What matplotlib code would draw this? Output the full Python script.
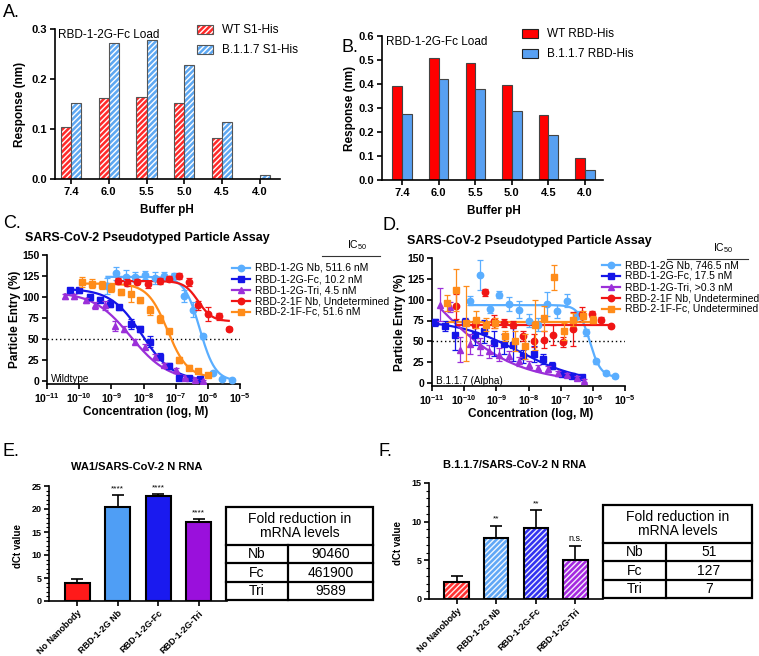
import numpy as np
import matplotlib
matplotlib.use('Agg')
import matplotlib.pyplot as plt
from matplotlib.patches import Rectangle
from matplotlib.lines import Line2D

plt.rcParams['font.family'] = ['Liberation Sans', 'DejaVu Sans']
plt.rcParams['mathtext.fontset'] = 'custom'
plt.rcParams['mathtext.rm'] = 'Liberation Sans'
plt.rcParams['mathtext.bf'] = 'Liberation Sans:bold'
plt.rcParams['hatch.linewidth'] = 1.0

# ---- data ----
ph_labels = ['7.4', '6.0', '5.5', '5.0', '4.5', '4.0']
s1_wt = [0.105, 0.162, 0.164, 0.153, 0.082, 0.0]
s1_b117 = [0.152, 0.272, 0.279, 0.228, 0.115, 0.008]
rbd_wt = [0.39, 0.51, 0.487, 0.397, 0.27, 0.093]
rbd_b117 = [0.275, 0.42, 0.38, 0.288, 0.188, 0.04]

series_names = ['RBD-1-2G Nb', 'RBD-1-2G-Fc', 'RBD-1-2G-Tri', 'RBD-2-1F Nb', 'RBD-2-1F-Fc']
series_colors = ['#5aaeff', '#1515e8', '#9b30d9', '#f01515', '#ff8c1a']
series_markers = ['o', 's', '^', 'o', 's']
ic50_wt = ['511.6 nM', '10.2 nM', '4.5 nM', 'Undetermined', '51.6 nM']
ic50_alpha = ['746.5 nM', '17.5 nM', '>0.3 nM', 'Undetermined', 'Undetermined']

# wildtype pseudotyped particle entry (log10 M, %, sd)
wt_logx = [
    [-9.15, -8.85, -8.55, -8.25, -7.95, -7.65, -7.35, -7.05, -6.75, -6.45, -6.15, -5.85, -5.55, -5.25],
    [-10.3, -10.0, -9.65, -9.35, -9.05, -8.75, -8.4, -8.1, -7.8, -7.5, -7.2, -6.9, -6.6, -6.25],
    [-10.45, -10.15, -9.8, -9.5, -9.2, -8.9, -8.6, -8.25, -7.95, -7.65, -7.35, -7.0, -6.7, -6.4, -6.15],
    [-8.8, -8.5, -8.2, -7.85, -7.5, -7.2, -6.9, -6.6, -6.3, -6.0, -5.65, -5.35],
    [-9.9, -9.6, -9.3, -9.0, -8.7, -8.4, -8.1, -7.8, -7.5, -7.2, -6.9, -6.6, -6.3, -6.0],
]
wt_y = [
    [113, 128, 124, 124, 126, 123, 125, 125, 101, 85, 53, 10, 2, 1],
    [108, 108, 100, 97, 92, 88, 68, 62, 47, 29, 18, 3, 3, 2],
    [101, 101, 96, 90, 90, 66, 62, 47, 41, 29, 19, 13, 3, 1, 0],
    [119, 117, 118, 115, 119, 122, 125, 118, 90, 80, 77, 62],
    [118, 116, 114, 111, 106, 104, 96, 84, 74, 59, 25, 16, 12, 7],
]
wt_err = [
    [10, 8, 8, 6, 5, 7, 5, 4, 7, 9, 3, 2, 1, 1],
    [3, 3, 4, 3, 4, 3, 6, 4, 6, 4, 3, 2, 1, 1],
    [3, 3, 3, 4, 5, 6, 4, 3, 3, 3, 2, 2, 1, 1, 1],
    [4, 4, 3, 4, 4, 3, 3, 5, 5, 8, 4, 2],
    [6, 5, 5, 5, 4, 10, 3, 5, 5, 3, 3, 3, 2, 2],
]
# 4PL fit parameters: top, bottom, logIC50, hill slope
wt_fit = [(124, 0, -6.25, 1.8), (110, 0, -8.05, 0.9), (106, 0, -8.4, 0.75),
          (119, 71, -6.3, 2.0), (116, 4, -7.25, 1.4)]

alpha_logx = [
    [-9.83, -9.52, -9.21, -8.93, -8.62, -8.31, -8.0, -7.72, -7.41, -7.1, -6.81, -6.5, -6.21, -5.9, -5.59, -5.31],
    [-10.9, -10.59, -10.28, -9.97, -9.66, -9.38, -9.06, -8.76, -8.47, -8.16, -7.84, -7.56, -7.26, -6.97, -6.66, -6.34],
    [-10.74, -10.45, -10.14, -9.83, -9.52, -9.24, -8.93, -8.62, -8.31, -8.0, -7.69, -7.38, -7.09, -6.79, -6.5, -6.27],
    [-10.24, -9.66, -9.34, -9.06, -8.76, -8.47, -8.16, -7.84, -7.53, -7.24, -6.93, -6.62, -6.34, -6.04, -5.74, -5.44],
    [-10.53, -10.24, -9.93, -9.63, -9.33, -9.03, -8.72, -8.41, -8.1, -7.81, -7.51, -7.22, -6.91, -6.62, -6.31, -6.01],
]
alpha_y = [
    [99, 130, 89, 106, 95, 88, 75, 70, 95, 86, 99, 81, 61, 26, 12, 8],
    [73, 69, 58, 73, 58, 62, 48, 47, 46, 32, 35, 29, 21, 11, 8, 7],
    [94, 91, 40, 47, 44, 38, 34, 32, 26, 22, 18, 17, 12, 10, 6, 3],
    [92, 70, 109, 74, 72, 70, 56, 51, 52, 58, 49, 65, 83, 83, 76, 68],
    [96, 112, 72, 76, 70, 72, 56, 50, 44, 70, 78, 127, 62, 76, 80, 76],
]
alpha_err = [
    [5, 18, 5, 4, 8, 10, 8, 8, 14, 8, 8, 6, 4, 3, 2, 2],
    [4, 6, 18, 5, 12, 14, 15, 12, 20, 8, 10, 6, 4, 3, 2, 2],
    [20, 6, 15, 12, 10, 8, 8, 6, 5, 4, 4, 3, 3, 2, 2, 2],
    [15, 4, 4, 8, 5, 4, 6, 8, 10, 12, 6, 20, 8, 4, 3, 2],
    [10, 25, 45, 10, 8, 6, 6, 12, 15, 30, 15, 15, 10, 8, 6, 4],
]
alpha_fit = [(93.5, 7, -6.1, 2.5), (76, 0, -8.3, 0.45), (200, 0, -11.0, 0.35),
             (70, 70, -7.0, 1.0), (73, 73, -7.0, 1.0)]

rna_groups = ['No Nanobody', 'RBD-1-2G Nb', 'RBD-1-2G-Fc', 'RBD-1-2G-Tri']
rna_colors = ['#ff1a1a', '#4f9ef5', '#1a1aef', '#9a10dc']
wa1_dct = [3.9, 20.4, 22.8, 17.2]
wa1_err = [0.8, 2.6, 0.4, 0.6]
wa1_sig = ['', '****', '****', '****']
wa1_fold = ['90460', '461900', '9589']
b117_dct = [2.2, 7.9, 9.2, 5.1]
b117_err = [0.8, 1.6, 2.3, 1.8]
b117_sig = ['', '**', '**', 'n.s.']
b117_fold = ['51', '127', '7']
fold_rows = ['Nb', 'Fc', 'Tri']

# ---- figure helpers ----
W, H = 759, 656
fig = plt.figure(figsize=(W / 100, H / 100), dpi=100)


def px_axes(l, t, r, b):
    return fig.add_axes([l / W, 1 - b / H, (r - l) / W, (b - t) / H])


def ft(x, y, s, **kw):
    return fig.text(x / W, 1 - y / H, s, **kw)


def prism_style(ax, size=8):
    for s in ['top', 'right']:
        ax.spines[s].set_visible(False)
    for s in ['left', 'bottom']:
        ax.spines[s].set_linewidth(1.2)
    ax.tick_params(width=1.2, length=3.5, labelsize=size, pad=2)
    for lab in ax.get_xticklabels() + ax.get_yticklabels():
        lab.set_fontweight('bold')


def fig_patch(x, y, w, h, color, hatch=None, edge='#555555'):
    fig.add_artist(Rectangle((x / W, 1 - (y + h) / H), w / W, h / H, transform=fig.transFigure,
                             facecolor=color, edgecolor='white' if hatch else edge,
                             hatch=hatch, lw=0 if hatch else 0.8))
    if hatch:
        fig.add_artist(Rectangle((x / W, 1 - (y + h) / H), w / W, h / H, transform=fig.transFigure,
                                 fill=False, edgecolor=edge, lw=0.8))


def hill(logx, top, bottom, logic50, slope):
    return bottom + (top - bottom) / (1 + 10 ** ((logx - logic50) * slope))


# ---- A ----
ax = px_axes(55, 29, 280, 179)
pos = np.arange(6)
bw = 0.265
ax.bar(pos - bw / 2, s1_wt, bw, color='#ff2a2a', edgecolor='white', hatch='//////', lw=0)
ax.bar(pos - bw / 2, s1_wt, bw, fill=False, edgecolor='#555555', lw=0.8)
ax.bar(pos + bw / 2, s1_b117, bw, color='#5ea8f2', edgecolor='white', hatch='//////', lw=0)
ax.bar(pos + bw / 2, s1_b117, bw, fill=False, edgecolor='#555555', lw=0.8)
ax.set_xlim(-0.42, 5.53)
ax.set_ylim(0, 0.3)
ax.set_xticks(pos, ph_labels)
ax.set_yticks([0, 0.1, 0.2, 0.3], ['0.0', '0.1', '0.2', '0.3'])
prism_style(ax)
ax.text(0.015, 1.0, 'RBD-1-2G-Fc Load', transform=ax.transAxes, fontsize=8.5, va='top')
fig_patch(197, 25, 16, 9, '#ff2a2a', '//////')
fig_patch(197, 45, 16, 9, '#5ea8f2', '//////')
ft(222, 30, 'WT S1-His', fontsize=8.5, va='center')
ft(222, 50, 'B.1.1.7 S1-His', fontsize=8.5, va='center')
ft(20, 104, 'Response (nm)', rotation=90, fontsize=8.5, fontweight='bold', ha='center', va='center')
ft(167, 210, 'Buffer pH', fontsize=8.5, fontweight='bold', ha='center', va='center')
ft(3, 4, 'A.', fontsize=13, va='top')

# ---- B ----
ax = px_axes(382, 36, 603, 180)
ax.bar(pos - bw / 2, rbd_wt, bw, color='#ff0000', edgecolor='#444444', lw=0.8)
ax.bar(pos + bw / 2, rbd_b117, bw, color='#58a0f2', edgecolor='#444444', lw=0.8)
ax.set_xlim(-0.55, 5.49)
ax.set_ylim(0, 0.6)
ax.set_xticks(pos, ph_labels)
ax.set_yticks(np.arange(0, 0.61, 0.1), ['0.0', '0.1', '0.2', '0.3', '0.4', '0.5', '0.6'])
prism_style(ax)
ax.text(0.02, 1.0, 'RBD-1-2G-Fc Load', transform=ax.transAxes, fontsize=8.5, va='top')
fig_patch(522, 29, 16, 9, '#ff0000', edge='#222222')
fig_patch(522, 49, 16, 9, '#58a0f2', edge='#222222')
ft(547, 34, 'WT RBD-His', fontsize=8.5, va='center')
ft(547, 54, 'B.1.1.7 RBD-His', fontsize=8.5, va='center')
ft(350, 108, 'Response (nm)', rotation=90, fontsize=8.5, fontweight='bold', ha='center', va='center')
ft(494, 211, 'Buffer pH', fontsize=8.5, fontweight='bold', ha='center', va='center')
ft(358, 47, 'B.', fontsize=13, va='center', ha='right')


# ---- C / D ----
def neut_panel(l, t, r, b, logxs, ys, errs, fits, ic50s, title, tx, note, legx, legy, ic_x, ic_line):
    ax = px_axes(l, t, r, b)
    for i in range(5):
        lx = np.array(logxs[i])
        ax.errorbar(10 ** lx, ys[i], yerr=errs[i], fmt=series_markers[i], color=series_colors[i],
                    ms=4.6, elinewidth=0.9, capsize=2, capthick=0.9, zorder=3 + i * 0.1)
        xx = np.linspace(lx.min(), lx.max(), 200)
        ax.plot(10 ** xx, hill(xx, *fits[i]), color=series_colors[i], lw=1.6, zorder=3)
    ax.axhline(50, color='black', ls=(0, (1, 2)), lw=1.0, zorder=1)
    ax.set_xscale('log')
    ax.set_xlim(1e-11, 1e-5)
    ax.set_ylim(-3.6, 150)
    ax.set_xticks([10.0 ** k for k in range(-11, -4)],
                  [r'$\mathbf{10^{%d}}$' % k for k in range(-11, -4)])
    ax.minorticks_off()
    ax.set_yticks([0, 25, 50, 75, 100, 125, 150])
    prism_style(ax, 7.5)
    ax.text(0.02, 0.0, note, transform=ax.transAxes, fontsize=7.2, va='bottom', ha='left')
    ft(tx, t - 17, title, fontsize=9, fontweight='bold', ha='center', va='center')
    ft(l - 32, (t + b) / 2, 'Particle Entry (%)', rotation=90, fontsize=8.5, fontweight='bold',
       ha='center', va='center')
    ft((l + r) / 2 + 2, b + 28, 'Concentration (log, M)', fontsize=8.5, fontweight='bold',
       ha='center', va='center')
    ft(ic_x, t - 3, r'IC$_{50}$', fontsize=7.5, ha='center', va='bottom')
    fig.add_artist(Line2D([ic_line[0] / W, ic_line[1] / W], [1 - (t + 1) / H] * 2,
                          transform=fig.transFigure, color='#333333', lw=0.8))
    for i in range(5):
        yy = 1 - (legy + 11 * i) / H
        fig.add_artist(Line2D([(legx - 9) / W, legx / W, (legx + 9) / W], [yy] * 3,
                              transform=fig.transFigure, color=series_colors[i], lw=1.6,
                              marker=series_markers[i], markevery=[1], ms=4.6))
        ft(legx + 14, legy + 11 * i, series_names[i] + ', ' + ic50s[i], fontsize=7.5, va='center')
    return ax


neut_panel(47, 255, 240, 384, wt_logx, wt_y, wt_err, wt_fit, ic50_wt,
           'SARS-CoV-2 Pseudotyped Particle Assay', 147, 'Wildtype', 241, 268, 357, (322, 380))
ft(3, 223, 'C.', fontsize=13, va='center')
neut_panel(432, 258, 625, 386, alpha_logx, alpha_y, alpha_err, alpha_fit, ic50_alpha,
           'SARS-CoV-2 Pseudotyped Particle Assay', 529, 'B.1.1.7 (Alpha)', 611, 265, 723, (667, 748))
ft(383, 226, 'D.', fontsize=13, va='center')


# ---- E / F ----
def rna_panel(l, t, r, b, vals, errs, sigs, ymax, hatched, title, tx, ty):
    ax = px_axes(l, t, r, b)
    x = np.arange(4)
    if hatched:
        ax.bar(x, vals, 0.62, color=rna_colors, edgecolor='white', hatch='//////', lw=0, alpha=0.9)
        ax.bar(x, vals, 0.62, fill=False, edgecolor='black', lw=1.5, zorder=3)
    else:
        ax.bar(x, vals, 0.62, color=rna_colors, edgecolor='black', lw=1.5)
    ax.errorbar(x, vals, yerr=[[0] * 4, errs], fmt='none', ecolor='black', elinewidth=1.2,
                capsize=4, capthick=1.2, zorder=2)
    for xi, v, e, s in zip(x, vals, errs, sigs):
        ax.text(xi, v + e + ymax * 0.025, s, ha='center', va='bottom',
                fontsize=6 if s != 'n.s.' else 6.5)
    ax.set_xlim(-0.7, 3.7)
    ax.set_ylim(0, ymax)
    ax.set_yticks(np.arange(0, ymax + 1, 5))
    ax.set_yticks(np.arange(0, ymax + 1, 1), minor=True)
    ax.set_xticks(x, rna_groups, rotation=45, ha='right', rotation_mode='anchor')
    prism_style(ax, 6.5)
    ax.tick_params(which='minor', length=2, width=0.8)
    ft(tx, ty, title, fontsize=8, fontweight='bold', ha='center', va='center')
    ft(l - 31, (t + b) / 2 + 2, 'dCt value', rotation=90, fontsize=7, fontweight='bold',
       ha='center', va='center')
    return ax


def fold_table(l, t, r, b, split, vals):
    ax = px_axes(l, t, r, b)
    ax.set_xlim(l, r)
    ax.set_ylim(b, t)
    ax.axis('off')
    lw = 1.6
    ax.add_patch(Rectangle((l, t), r - l, b - t, fill=False, lw=lw, clip_on=False))
    hb = t + (b - t) * 0.41
    rh = (b - hb) / 3
    for k in range(3):
        ax.plot([l, r], [hb + k * rh] * 2, color='black', lw=lw, clip_on=False)
    ax.plot([split, split], [hb, b], color='black', lw=lw, clip_on=False)
    ax.text((l + r) / 2, (t + hb) / 2, 'Fold reduction in\nmRNA levels', ha='center', va='center',
            fontsize=10, linespacing=1.05)
    for k in range(3):
        cy = hb + (k + 0.5) * rh
        ax.text((l + split) / 2, cy, fold_rows[k], ha='center', va='center', fontsize=10)
        ax.text((split + r) / 2, cy, vals[k], ha='center', va='center', fontsize=10)


rna_panel(49, 486, 227, 601, wa1_dct, wa1_err, wa1_sig, 25, False, 'WA1/SARS-CoV-2 N RNA', 137, 467)
fold_table(226, 507, 373, 600, 288, wa1_fold)
ft(3, 452, 'E.', fontsize=13, va='center')
rna_panel(429, 483, 603, 599, b117_dct, b117_err, b117_sig, 15, True, 'B.1.1.7/SARS-CoV-2 N RNA', 515, 465)
fold_table(603, 505, 752, 598, 666, b117_fold)
ft(378, 452, 'F.', fontsize=13, va='center')

fig.savefig('out.png', dpi=100)
